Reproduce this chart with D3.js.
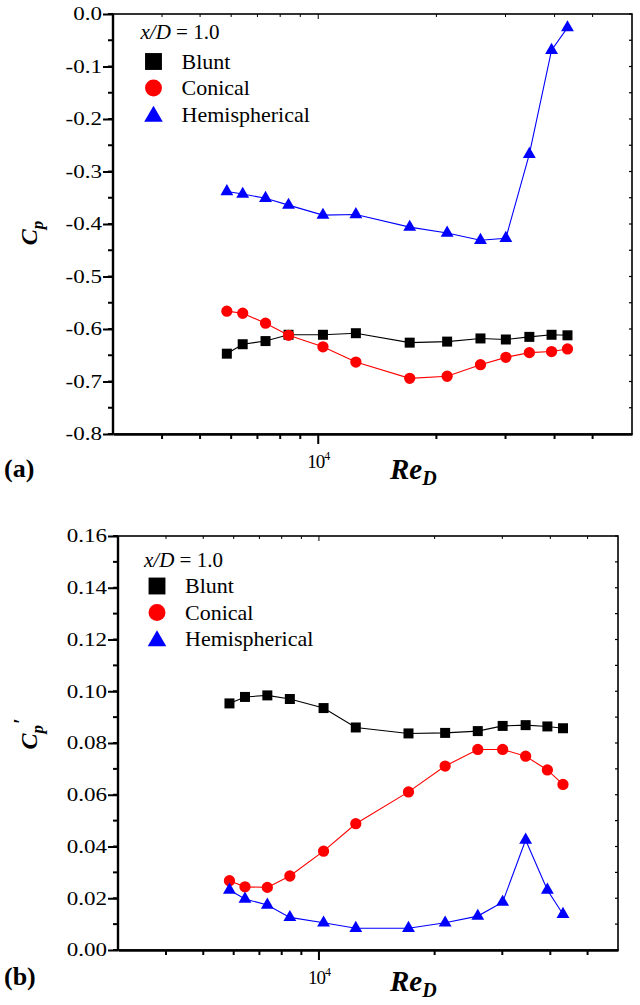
<!DOCTYPE html>
<html>
<head>
<meta charset="utf-8">
<script src="https://cdn.jsdelivr.net/npm/d3@7"></script>
<style>
  html, body { margin: 0; padding: 0; background: #fff; }
  svg { display: block; font-family: "Liberation Serif", "Times New Roman", serif; }
</style>
</head>
<body>
<svg id="fig" width="640" height="1005"></svg>
<script>
// Reynolds numbers of the measurement stations
const reD = [5850, 6420, 7340, 8400, 10280, 12470, 17100, 21300, 25900, 30060, 34500, 39300, 43150];

// (a) mean pressure coefficient at x/D = 1.0
const cpBlunt   = [-0.647, -0.629, -0.623, -0.611, -0.611, -0.608, -0.626, -0.624, -0.618, -0.620, -0.615, -0.611, -0.612];
const cpConical = [-0.566, -0.570, -0.589, -0.612, -0.634, -0.663, -0.694, -0.690, -0.668, -0.654, -0.645, -0.643, -0.638];
const cpHemi    = [-0.338, -0.343, -0.351, -0.364, -0.383, -0.382, -0.406, -0.417, -0.431, -0.427, -0.267, -0.069, -0.026];

// (b) fluctuating pressure coefficient at x/D = 1.0
const cprBlunt   = [0.0953, 0.0978, 0.0984, 0.0970, 0.0935, 0.0860, 0.0837, 0.0839, 0.0846, 0.0866, 0.0869, 0.0864, 0.0857];
const cprConical = [0.0268, 0.0244, 0.0242, 0.0286, 0.0382, 0.0488, 0.0611, 0.0711, 0.0775, 0.0775, 0.0749, 0.0696, 0.0640];
const cprHemi    = [0.0232, 0.0197, 0.0174, 0.0126, 0.0105, 0.0084, 0.0084, 0.0105, 0.0131, 0.0185, 0.0425, 0.0232, 0.0138];

const seriesNames  = ["Blunt", "Conical", "Hemispherical"];
const seriesColors = ["#000000", "#ff0000", "#0000ff"];
const seriesShapes = [d3.symbolSquare, d3.symbolCircle, d3.symbolTriangle];
const markerSizes  = [100, 100, 72];
const legendSizes  = [285, 225, 150];

const cpTicks  = [0, -0.1, -0.2, -0.3, -0.4, -0.5, -0.6, -0.7, -0.8];
const cprTicks = [0, 0.02, 0.04, 0.06, 0.08, 0.10, 0.12, 0.14, 0.16];
const reMinor  = [4000, 5000, 6000, 7000, 8000, 9000, 20000, 30000, 40000, 50000];
const reMajor  = [10000];

const svg = d3.select("#fig");
const SERIF = "'Liberation Serif', 'Times New Roman', serif";

// plain hyphen for negative tick labels
const fmtSigned = digits => v => {
  const s = Math.abs(v).toFixed(digits);
  return (v < 0 ? "-" : "") + s;
};

function drawPanel(cfg) {
  const { left, right, top, bottom, xDomain, yDomain, yTicks, yMinorStep, yFmt,
          data, tag, tagY, yPrime, yTitleY, xTitleY,
          legendX, legendHeadY, legendRow0, legendDy, rightStep } = cfg;

  const x = d3.scaleLog().domain(xDomain).range([left, right]);
  const y = d3.scaleLinear().domain(yDomain).range([bottom, top]);
  const g = svg.append("g");

  // data lines and markers
  data.forEach((vals, i) => {
    const pts = reD.map((r, k) => [x(r), y(vals[k])]);
    g.append("path")
      .attr("d", d3.line()(pts))
      .attr("fill", "none")
      .attr("stroke", seriesColors[i])
      .attr("stroke-width", 1.1);
    g.selectAll(null).data(pts).enter().append("path")
      .attr("transform", d => `translate(${d[0]},${d[1]})`)
      .attr("d", d3.symbol().type(seriesShapes[i]).size(markerSizes[i]))
      .attr("fill", seriesColors[i]);
  });

  // frame
  g.append("rect")
    .attr("x", left).attr("y", top)
    .attr("width", right - left).attr("height", bottom - top)
    .attr("fill", "none").attr("stroke", "#000").attr("stroke-width", 1.6);

  // bottom axis (log)
  const xAxis = d3.axisBottom(x).tickValues(reMajor.concat(reMinor))
    .tickSize(0).tickFormat("");
  g.append("g").attr("transform", `translate(0,${bottom})`).call(xAxis)
    .call(s => s.select(".domain").attr("stroke-width", 2.4));
  reMinor.forEach(v => {
    g.append("line").attr("x1", x(v)).attr("x2", x(v))
      .attr("y1", bottom).attr("y2", bottom + 5)
      .attr("stroke", "#000").attr("stroke-width", 2);
    g.append("line").attr("x1", x(v)).attr("x2", x(v))
      .attr("y1", top).attr("y2", top + 3)
      .attr("stroke", "#000").attr("stroke-width", 1);
  });
  reMajor.forEach(v => {
    g.append("line").attr("x1", x(v)).attr("x2", x(v))
      .attr("y1", bottom).attr("y2", bottom + 10)
      .attr("stroke", "#000").attr("stroke-width", 2);
    g.append("line").attr("x1", x(v)).attr("x2", x(v))
      .attr("y1", top).attr("y2", top + 5)
      .attr("stroke", "#000").attr("stroke-width", 1);
    const t = g.append("text").attr("x", x(v) - 11).attr("y", bottom + 34)
      .attr("font-size", 19).attr("fill", "#000").attr("font-family", SERIF);
    t.append("tspan").text("10").attr("letter-spacing", -1);
    t.append("tspan").text("4").attr("font-size", 12).attr("dy", -8);
  });

  // left axis
  const yAxis = d3.axisLeft(y).tickValues(yTicks).tickSize(10).tickFormat(yFmt);
  g.append("g").attr("transform", `translate(${left},0)`).call(yAxis)
    .attr("font-family", SERIF)
    .call(s => s.select(".domain").attr("stroke-width", 2.4).attr("d", `M0,${top}V${bottom}`))
    .call(s => s.selectAll(".tick line").attr("stroke-width", 2))
    .call(s => s.selectAll(".tick text")
      .attr("font-family", SERIF)
      .attr("font-size", 18).attr("x", -8.6)
      .attr("transform", "scale(1.28,1)"));
  const yMin = Math.min(...yDomain), yMax = Math.max(...yDomain);
  const nMinor = Math.round((yMax - yMin) / yMinorStep);
  for (let k = 0; k <= nMinor; k++) {
    const v = yMin + k * yMinorStep;
    g.append("line").attr("x1", left - 5).attr("x2", left)
      .attr("y1", y(v)).attr("y2", y(v))
      .attr("stroke", "#000").attr("stroke-width", 2);
  }
  // right axis ticks, pointing in
  const nRight = Math.round((yMax - yMin) / rightStep);
  for (let k = 0; k <= nRight; k++) {
    const v = yMin + k * rightStep;
    g.append("line").attr("x1", right - 3).attr("x2", right)
      .attr("y1", y(v)).attr("y2", y(v))
      .attr("stroke", "#000").attr("stroke-width", 1.2);
  }

  // axis titles
  const xt = g.append("text").attr("x", 390).attr("y", xTitleY)
    .attr("font-size", 29).attr("font-family", SERIF)
    .attr("font-weight", "bold").attr("font-style", "italic");
  xt.append("tspan").text("Re");
  xt.append("tspan").text("D").attr("font-size", 20).attr("dy", 6);

  const yt = g.append("text")
    .attr("transform", `translate(37,${yTitleY}) rotate(-90)`)
    .attr("text-anchor", "middle").attr("font-size", 24).attr("font-family", SERIF)
    .attr("font-weight", "bold").attr("font-style", "italic");
  yt.append("tspan").text("C");
  yt.append("tspan").text("p").attr("font-size", 17).attr("dy", 6);
  if (yPrime) yt.append("tspan").text("\u2032").attr("font-size", 20).attr("dy", -15).attr("dx", 1);

  g.append("text").attr("x", 4).attr("y", tagY)
    .attr("font-size", 26).attr("font-family", SERIF)
    .attr("font-weight", "bold").text(tag);

  // legend
  const lg = g.append("g").attr("font-family", SERIF);
  const head = lg.append("text").attr("x", legendX - 13).attr("y", legendHeadY)
    .attr("font-size", 21);
  head.append("tspan").text("x/D").attr("font-style", "italic");
  head.append("tspan").text(" = 1.0");
  seriesNames.forEach((name, i) => {
    const cy = legendRow0 + legendDy * i;
    lg.append("path")
      .attr("transform", `translate(${legendX},${cy + (i === 2 ? 2 : 0)})`)
      .attr("d", d3.symbol().type(seriesShapes[i]).size(legendSizes[i]))
      .attr("fill", seriesColors[i]);
    lg.append("text").attr("x", legendX + 28).attr("y", cy + 7)
      .attr("font-size", 22).text(name);
  });
}

drawPanel({
  left: 113, right: 632, top: 14, bottom: 434,
  xDomain: [3000, 63000], yDomain: [-0.8, 0],
  yTicks: cpTicks, yMinorStep: 0.05, rightStep: 0.05,
  yFmt: fmtSigned(1),
  data: [cpBlunt, cpConical, cpHemi],
  tag: "(a)", tagY: 477, yPrime: false, yTitleY: 233, xTitleY: 479,
  legendX: 153.5, legendHeadY: 39, legendRow0: 61.5, legendDy: 26.5
});

drawPanel({
  left: 118, right: 618, top: 536, bottom: 950,
  xDomain: [3000, 60000], yDomain: [0, 0.16],
  yTicks: cprTicks, yMinorStep: 0.01, rightStep: 0.01,
  yFmt: fmtSigned(2),
  data: [cprBlunt, cprConical, cprHemi],
  tag: "(b)", tagY: 985, yPrime: true, yTitleY: 734, xTitleY: 991,
  legendX: 157, legendHeadY: 566.7, legendRow0: 586, legendDy: 26.5
});
</script>
</body>
</html>
